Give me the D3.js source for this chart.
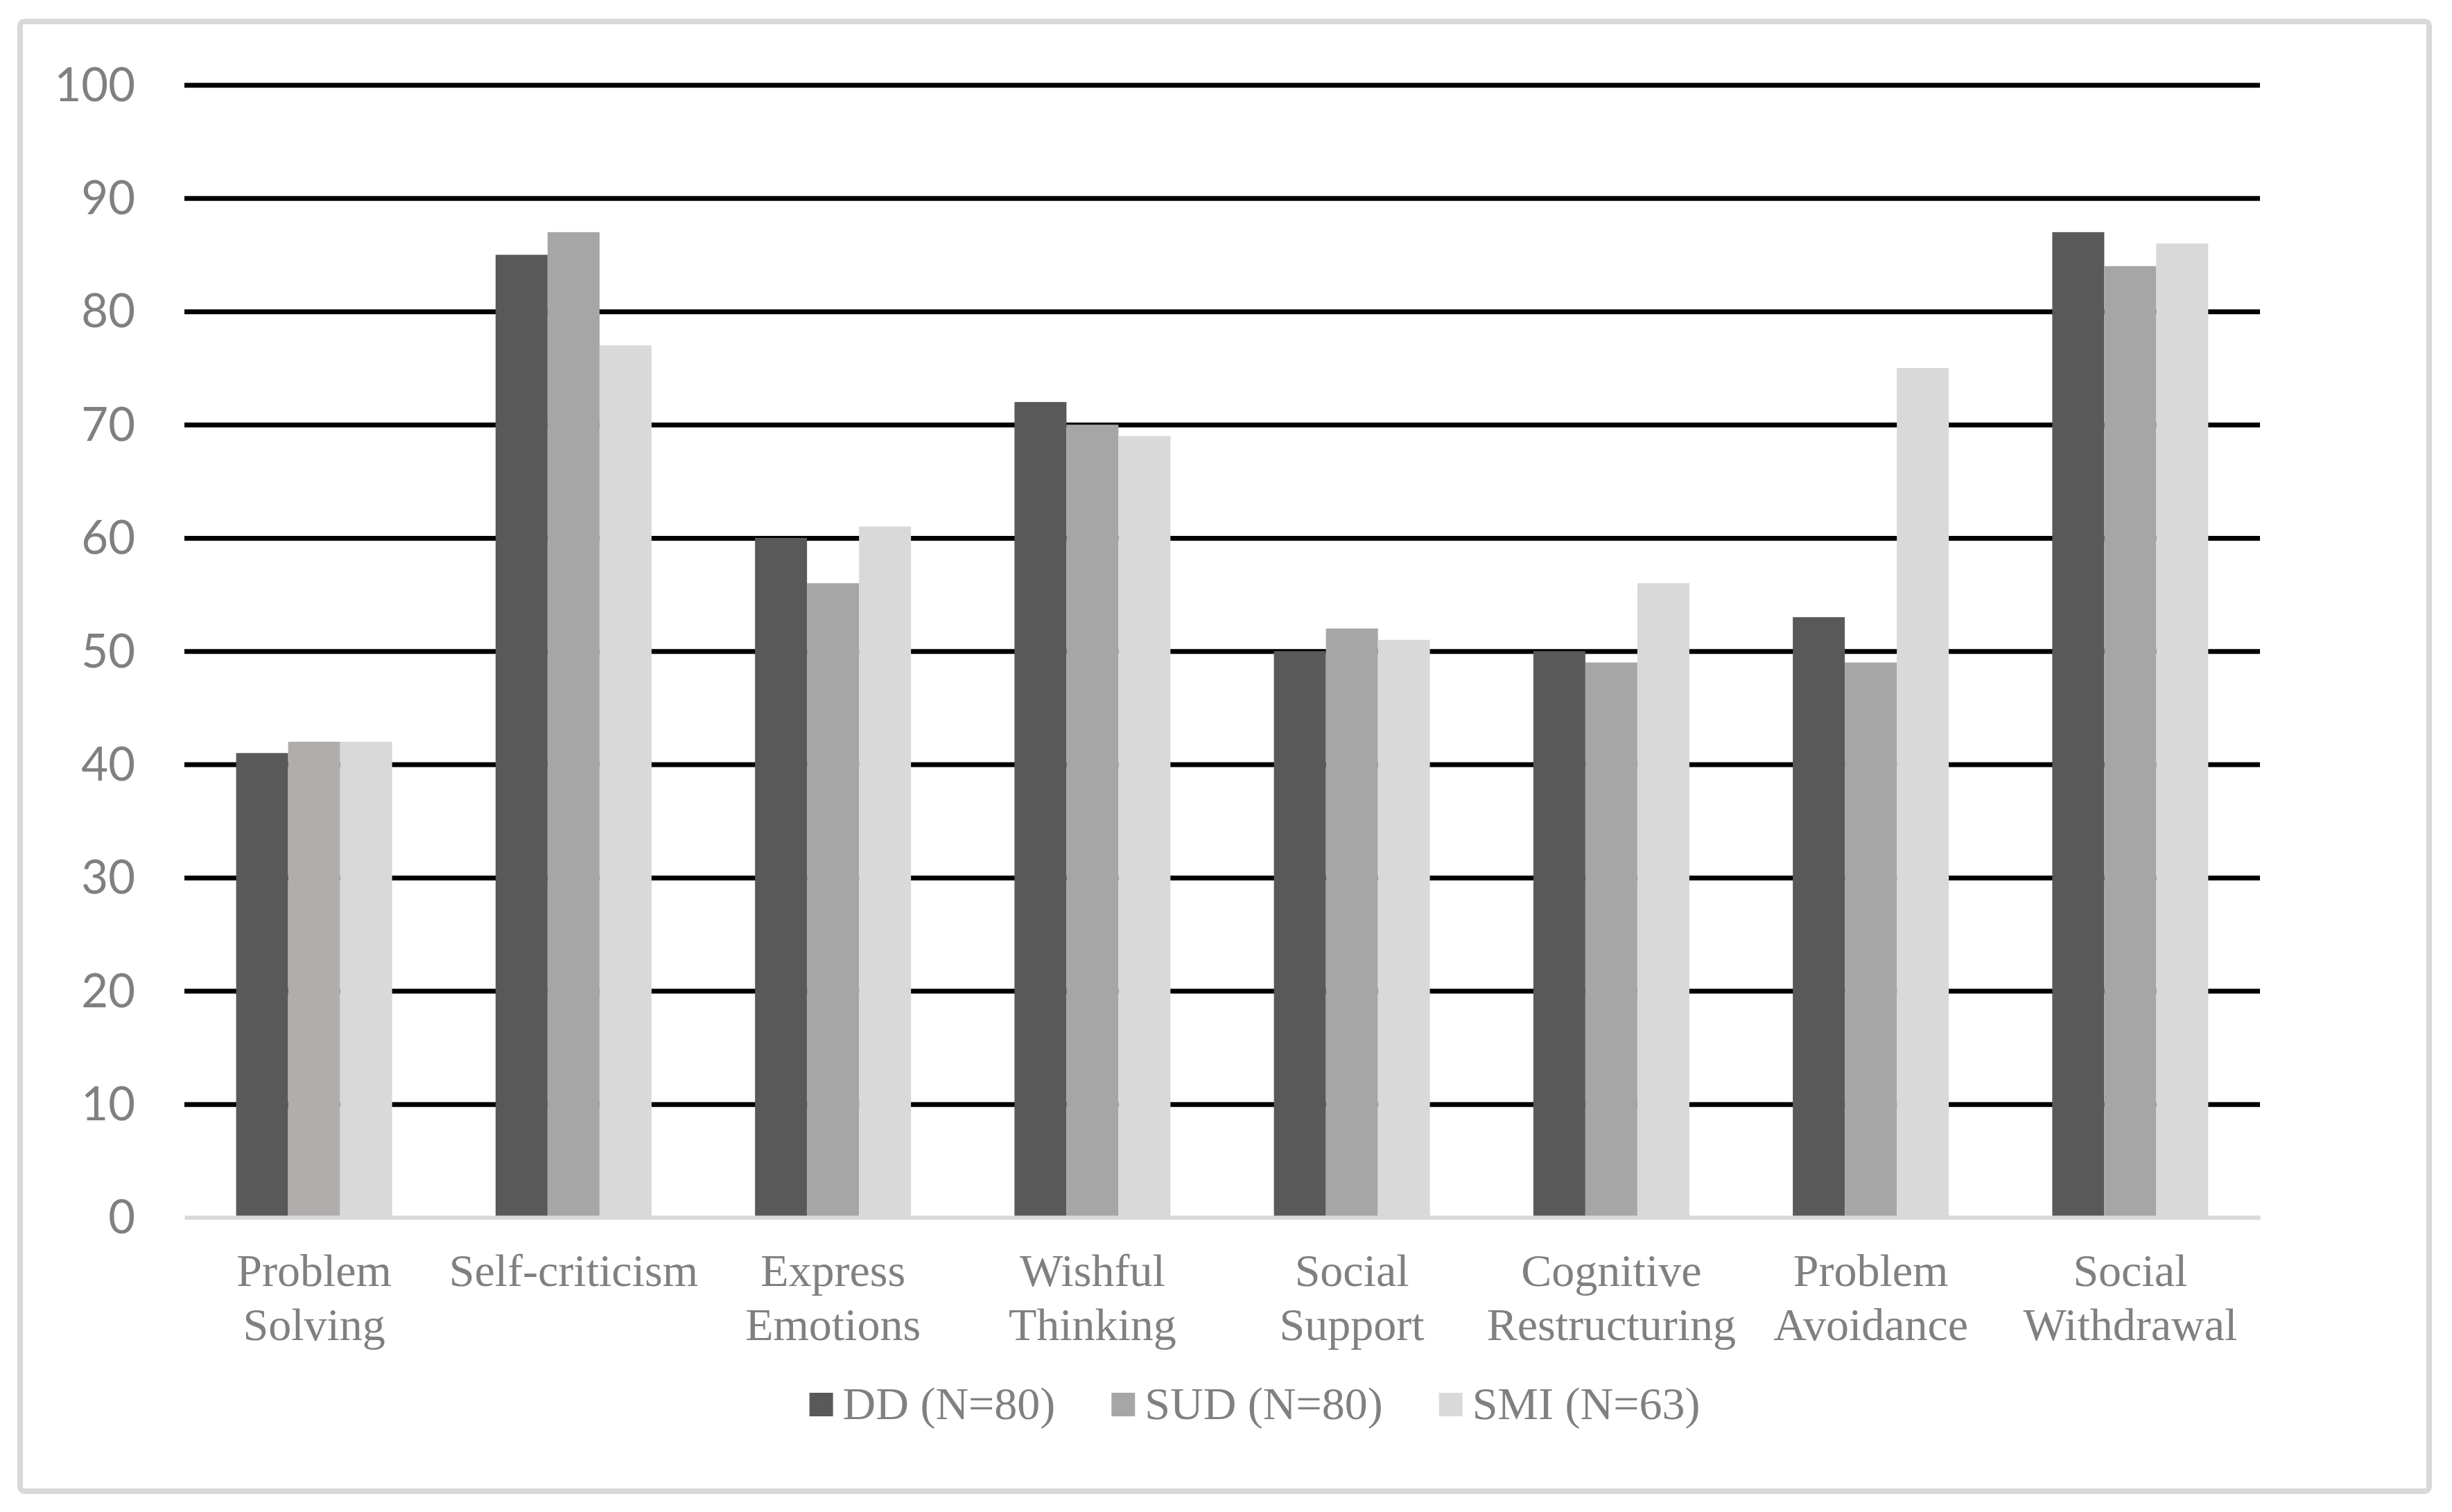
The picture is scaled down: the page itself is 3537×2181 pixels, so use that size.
<!DOCTYPE html>
<html>
<head>
<meta charset="utf-8">
<script src="https://cdn.jsdelivr.net/npm/d3@7"></script>
<style>
  html, body { margin: 0; padding: 0; background: #ffffff; }
  svg { display: block; }
</style>
</head>
<body>
<svg id="chart" width="3537" height="2181"></svg>
<script>
// ---- data ----
const categories = ["Problem Solving", "Self-criticism", "Express Emotions", "Wishful Thinking",
  "Social Support", "Cognitive Restructuring", "Problem Avoidance", "Social Withdrawal"];
const seriesNames = ["DD (N=80)", "SUD (N=80)", "SMI (N=63)"];
const ddValues  = [41, 85, 60, 72, 50, 50, 53, 87];
const sudValues = [42, 87, 56, 70, 52, 49, 49, 84];
const smiValues = [42, 77, 61, 69, 51, 56, 75, 86];
const yTicks = [0, 10, 20, 30, 40, 50, 60, 70, 80, 90, 100];

// ---- styles ----
const seriesColors = ["#595959", "#a6a6a6", "#d9d9d9"];
const pointColorOverride = { "Problem Solving|SUD (N=80)": "#b0adac" };
const textColor = "#808080";
const serif = "'Liberation Serif', 'Times New Roman', 'DejaVu Serif', serif";
const sans = "Lato, Carlito, Calibri, 'Open Sans', sans-serif";

const allValues = [ddValues, sudValues, smiValues];
const rows = categories.map((c, i) => ({
  cat: c,
  vals: seriesNames.map((s, k) => ({ series: s, value: allValues[k][i], cat: c }))
}));

const svg = d3.select("#chart");
svg.append("rect").attr("width", 3537).attr("height", 2181).attr("fill", "#ffffff");

// chart border
svg.append("rect")
  .attr("x", 29).attr("y", 31).attr("width", 3475).attr("height", 2120)
  .attr("rx", 6).attr("ry", 6)
  .attr("fill", "none").attr("stroke", "#d9d9d9").attr("stroke-width", 8);

const plotLeft = 266, plotRight = 3260, plotTop = 122.5, plotBottom = 1756;

const y = d3.scaleLinear().domain([0, 100]).range([plotBottom, plotTop]);
const pad = 0.3988;
const x0 = d3.scaleBand().domain(categories).range([plotLeft, plotRight])
  .paddingInner(pad).paddingOuter(pad / 2);
const x1 = d3.scaleBand().domain(seriesNames).range([0, x0.bandwidth()]).padding(0);
const color = d3.scaleOrdinal().domain(seriesNames).range(seriesColors);

// gridlines + y labels
const yAxis = svg.append("g")
  .attr("transform", `translate(${plotLeft},0)`)
  .call(d3.axisLeft(y).tickValues(yTicks).tickSize(-(plotRight - plotLeft)).tickPadding(71).tickFormat(d3.format("d")));
yAxis.select(".domain").remove();
yAxis.selectAll(".tick line")
  .attr("stroke", d => d === 0 ? "none" : "#000000")
  .attr("stroke-width", 7);
yAxis.selectAll(".tick text")
  .attr("fill", textColor)
  .attr("font-family", sans)
  .attr("font-size", 67)
  .attr("dy", "0.34em");

// bars
const groups = svg.append("g").selectAll("g")
  .data(rows).join("g")
  .attr("transform", d => `translate(${x0(d.cat)},0)`);
groups.selectAll("rect")
  .data(d => d.vals).join("rect")
  .attr("x", d => x1(d.series))
  .attr("y", d => y(d.value))
  .attr("width", x1.bandwidth())
  .attr("height", d => y(0) - y(d.value))
  .attr("fill", d => pointColorOverride[d.cat + "|" + d.series] || color(d.series));

// x axis
const xAxis = svg.append("g")
  .attr("transform", `translate(0,${plotBottom})`)
  .call(d3.axisBottom(x0).tickSize(0).tickSizeOuter(0));
xAxis.select(".domain").attr("stroke", "#d9d9d9").attr("stroke-width", 6);
xAxis.selectAll(".tick text").each(function(d) {
  const t = d3.select(this);
  t.text(null)
    .attr("fill", textColor)
    .attr("font-family", serif)
    .attr("font-size", 66)
    .attr("y", 0)
    .attr("dy", null);
  const lines = d.split(" ");
  lines.forEach((ln, i) => {
    t.append("tspan").attr("x", 0).attr("y", 99 + i * 78).text(ln);
  });
});

// legend
const legend = svg.append("g");
const items = legend.selectAll("g").data(seriesNames).join("g");
items.append("rect")
  .attr("width", 34).attr("height", 34).attr("y", 2009)
  .attr("fill", d => color(d));
items.append("text")
  .attr("y", 2047)
  .attr("fill", textColor)
  .attr("font-family", serif)
  .attr("font-size", 66)
  .text(d => d);
const widths = [];
items.select("text").each(function() { widths.push(this.getComputedTextLength()); });
const sqW = 34, sqGap = 14, itemGap = 81;
const total = d3.sum(widths) + seriesNames.length * (sqW + sqGap) + (seriesNames.length - 1) * itemGap;
let cx = 1810 - total / 2;
items.each(function(d, i) {
  const g = d3.select(this);
  g.select("rect").attr("x", cx);
  g.select("text").attr("x", cx + sqW + sqGap);
  cx += sqW + sqGap + widths[i] + itemGap;
});
</script>
</body>
</html>
